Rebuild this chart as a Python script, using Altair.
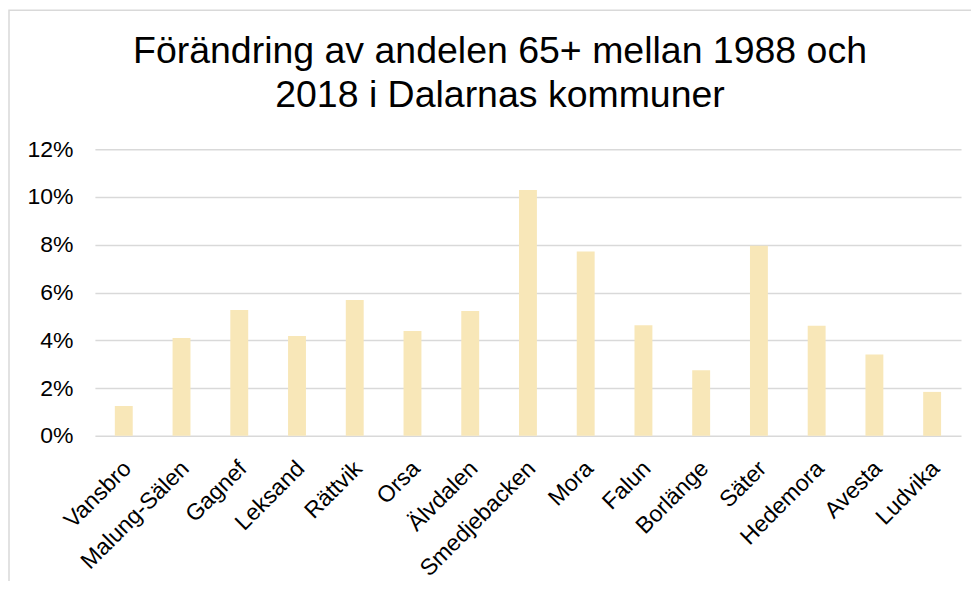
import altair as alt
import pandas as pd

kommuner = ["Vansbro", "Malung-Sälen", "Gagnef", "Leksand", "Rättvik", "Orsa",
            "Älvdalen", "Smedjebacken", "Mora", "Falun", "Borlänge", "Säter",
            "Hedemora", "Avesta", "Ludvika"]
forandring = [0.0125, 0.0410, 0.0527, 0.0418, 0.0569, 0.0439, 0.0523, 0.1029,
              0.0772, 0.0463, 0.0275, 0.0796, 0.0461, 0.0341, 0.0184]
title_lines = ["Förändring av andelen 65+ mellan 1988 och", "2018 i Dalarnas kommuner"]

df = pd.DataFrame({"kommun": kommuner, "andel": forandring})

FONT = "Liberation Sans"

bars = alt.Chart(df).mark_bar(color="#F8E7B8").encode(
    x=alt.X("kommun:N", sort=kommuner, title=None,
            scale=alt.Scale(paddingInner=0.69, paddingOuter=0.345),
            axis=alt.Axis(labelAngle=-45, labelAlign="right", labelBaseline="top",
                          labelFontSize=23, labelFont=FONT, labelColor="#000000",
                          labelPadding=21, labelOffset=-4, ticks=False, domain=False, grid=False)),
    y=alt.Y("andel:Q", title=None,
            scale=alt.Scale(domain=[0, 0.12]),
            axis=alt.Axis(format=".0%", values=[0, 0.02, 0.04, 0.06, 0.08, 0.10, 0.12],
                          labelFontSize=23, labelFont=FONT, labelColor="#000000",
                          labelPadding=22, ticks=False, domain=False,
                          grid=True, gridColor="#d9d9d9", gridWidth=1.5)),
)

frame = alt.Chart(pd.DataFrame({"a": [0]})).mark_rect(
    fill=None, stroke="#d9d9d9", strokeWidth=1.5
).encode(
    x=alt.value(-86), x2=alt.value(905),
    y=alt.value(-139), y2=alt.value(470),
)

chart = alt.layer(frame, bars).properties(
    width=867,
    height=287,
    autosize=alt.AutoSizeParams(type="none"),
    padding={"left": 87, "top": 141, "right": 10, "bottom": 145},
    title=alt.TitleParams(
        text=title_lines, font=FONT, fontSize=37.5, fontWeight="normal",
        color="#000000", anchor="middle", dx=-28, offset=32, dy=137, lineHeight=44,
    ),
).configure_view(stroke=None)

chart.save("out.html", embed_options={"renderer": "svg", "actions": False})
